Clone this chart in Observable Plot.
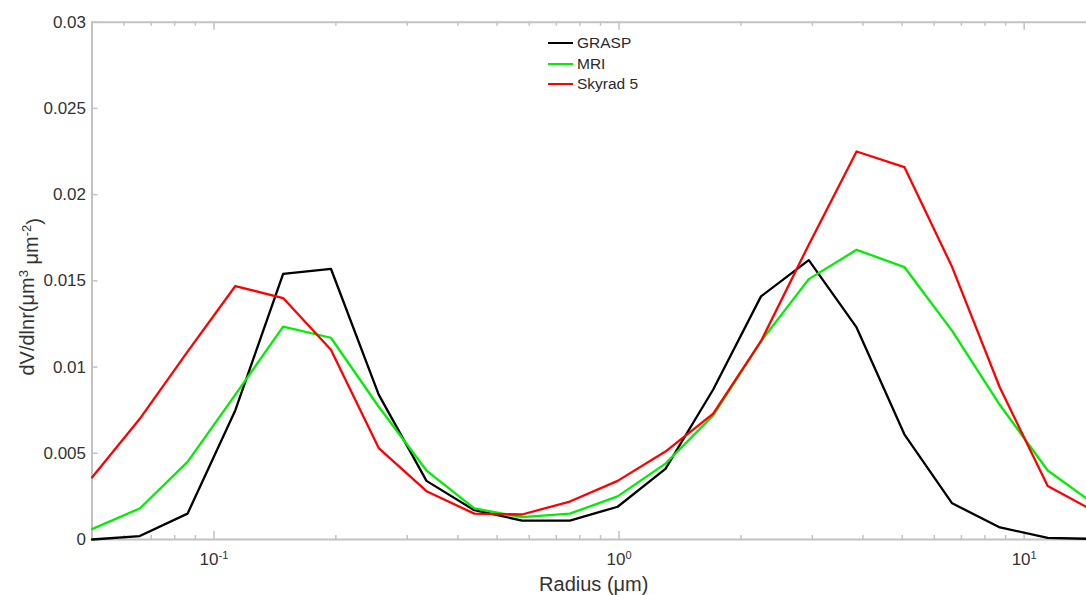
<!DOCTYPE html>
<html><head><meta charset="utf-8">
<script src="https://cdn.jsdelivr.net/npm/d3@7"></script>
<script src="https://cdn.jsdelivr.net/npm/@observablehq/plot@0.6"></script>
<style>
body{margin:0;background:#fff;}
#wrap{position:relative;width:1086px;height:595px;overflow:hidden;font-family:"Liberation Sans",Arial,sans-serif;}
#legend{position:absolute;left:548px;top:33px;font-size:15.5px;color:#2a2a2a;}
.item{display:flex;align-items:center;height:20.5px;white-space:nowrap;}
.sw{width:25px;height:2px;margin-right:4px;}
</style></head><body><div id="wrap"><div id="chart"></div><div id="legend"></div></div>
<script>
// AERONET/GRASP 22 radius bins (µm)
const radius = [0.05, 0.065604, 0.086077, 0.112939, 0.148184, 0.194429, 0.255105, 0.334716, 0.439173, 0.576227, 0.756052, 0.991996, 1.301571, 1.707757, 2.240702, 2.939966, 3.857452, 5.06126, 6.640745, 8.713145, 11.432287, 15.0];
const grasp  = [0.0000, 0.0002, 0.0015, 0.0075, 0.0154, 0.0157, 0.0084, 0.0034, 0.0017, 0.0011, 0.0011, 0.0019, 0.0041, 0.0087, 0.0141, 0.0162, 0.0123, 0.0061, 0.0021, 0.0007, 0.0001, 0.00003];
const mri    = [0.0006, 0.0018, 0.0045, 0.0084, 0.01235, 0.0117, 0.0077, 0.0040, 0.0018, 0.0013, 0.0015, 0.0025, 0.0044, 0.0072, 0.0115, 0.0151, 0.0168, 0.0158, 0.0121, 0.0078, 0.0040, 0.0020];
const skyrad = [0.0036, 0.0070, 0.0109, 0.0147, 0.0140, 0.0110, 0.0053, 0.0028, 0.0015, 0.00145, 0.0022, 0.0034, 0.0051, 0.0073, 0.0115, 0.0171, 0.0225, 0.0216, 0.0158, 0.0088, 0.0031, 0.0016];
const seriesNames  = ["GRASP", "MRI", "Skyrad 5"];
const seriesColors = ["#000000", "#00ee00", "#ff0000"];
const yTicks = [0, 0.005, 0.01, 0.015, 0.02, 0.025, 0.03];
const xMajorTicks = [0.1, 1, 10];
const xTickExponents = ["-1", "0", "1"];
const xMinorTicks = [0.06, 0.07, 0.08, 0.09, 0.2, 0.3, 0.4, 0.5, 0.6, 0.7, 0.8, 0.9, 2, 3, 4, 5, 6, 7, 8, 9];
const xLabel = "Radius (μm)";
const yLabelParts = [["dV/dlnr(μm", false], ["3", true], [" μm", false], ["-2", true], [")", false]];

const rows = [];
[grasp, mri, skyrad].forEach((vals, k) => vals.forEach((v, i) => rows.push({r: radius[i], v, s: seriesNames[k]})));

const W = 1086, H = 595, mL = 91.5, mT = 21.7, mB = 56, mR = -9;
const frameH = H - mT - mB, frameW = W - mL - mR;
const axisColor = "#c2c2c2";

const chart = Plot.plot({
  width: W, height: H,
  marginLeft: mL, marginTop: mT, marginBottom: mB, marginRight: mR,
  style: {fontFamily: "Liberation Sans, Arial, sans-serif", fontSize: "17px", color: "#333", background: "white"},
  x: {type: "log", domain: [0.05, 15], range: [mL, W - mR]},
  y: {domain: [0, 0.03], range: [H - mB, mT]},
  color: {domain: seriesNames, range: seriesColors},
  marks: [
    Plot.ruleY([0, 0.03], {stroke: axisColor, strokeWidth: 2}),
    Plot.ruleX([0.05], {stroke: axisColor, strokeWidth: 2}),
    Plot.tickX(xMajorTicks, {x: d => d, stroke: axisColor, strokeWidth: 1.5, insetTop: frameH - 8}),
    Plot.tickX(xMinorTicks, {x: d => d, stroke: axisColor, strokeWidth: 1.5, insetTop: frameH - 4}),
    Plot.tickX(xMajorTicks, {x: d => d, stroke: axisColor, strokeWidth: 1.5, insetBottom: frameH - 8}),
    Plot.tickX(xMinorTicks, {x: d => d, stroke: axisColor, strokeWidth: 1.5, insetBottom: frameH - 4}),
    Plot.tickY(yTicks, {y: d => d, stroke: axisColor, strokeWidth: 1.5, insetRight: frameW - 6}),
    Plot.line(rows, {x: "r", y: "v", stroke: "s", strokeWidth: 2.3, curve: "linear"}),
    Plot.axisY({ticks: yTicks, tickSize: 0, tickPadding: 6, tickFormat: d => String(d), label: null, fill: "#333"}),
    Plot.axisX({ticks: xMajorTicks, tickSize: 0, tickPadding: 13, tickFormat: d => xTickExponents[xMajorTicks.indexOf(d)], label: null, fill: "#333"}),
    Plot.text([xLabel], {frameAnchor: "bottom", lineAnchor: "middle", dy: 45, fontSize: 20, fill: "#333"}),
    Plot.text(["ylabel"], {frameAnchor: "left", textAnchor: "middle", lineAnchor: "middle", rotate: -90, dx: -64, dy: 16, fontSize: 20, fill: "#333"})
  ]
});

document.getElementById("chart").appendChild(chart);

// superscript tick labels 10^n
d3.select(chart).selectAll('g[aria-label="x-axis tick label"] text').each(function() {
  const exp = this.textContent;
  const t = d3.select(this);
  t.text(null);
  t.append("tspan").text("10");
  t.append("tspan").attr("dy", "-0.55em").attr("font-size", "11px").text(exp);
});
// y label with superscripts
d3.select(chart).selectAll('g[aria-label="text"] text').filter(function() { return this.textContent === "ylabel"; }).each(function() {
  const t = d3.select(this);
  t.text(null);
  let up = false;
  yLabelParts.forEach(([s, sup]) => {
    const sp = t.append("tspan").text(s);
    if (sup) { sp.attr("dy", "-0.5em").attr("font-size", "13px"); up = true; }
    else if (up) { sp.attr("dy", "0.5em"); up = false; }
  });
});

// legend
const leg = document.getElementById("legend");
seriesNames.forEach((n, i) => {
  const it = document.createElement("div"); it.className = "item";
  const sw = document.createElement("span"); sw.className = "sw"; sw.style.background = seriesColors[i];
  const tx = document.createElement("span"); tx.textContent = n;
  it.appendChild(sw); it.appendChild(tx); leg.appendChild(it);
});
</script>
</body></html>
